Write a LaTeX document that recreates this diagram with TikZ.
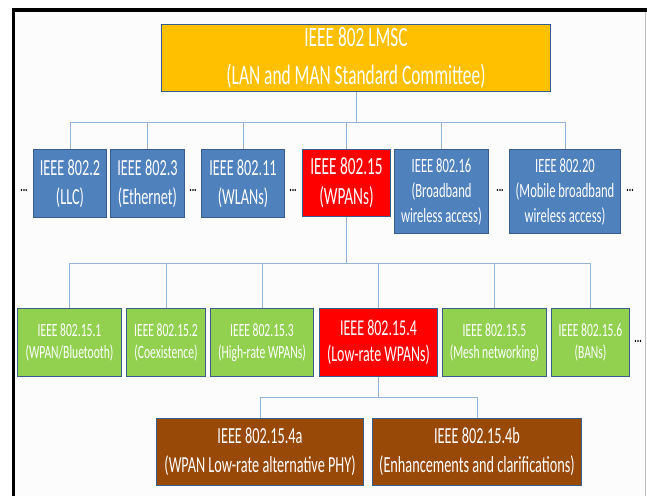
\documentclass[tikz,border=0pt]{standalone}
\usepackage{fontspec}
\newfontfamily\calfont[FakeStretch=0.62]{Carlito}
\definecolor{bordc}{RGB}{56,93,138}
\definecolor{linec}{RGB}{149,179,215}
\definecolor{orangec}{RGB}{255,192,0}
\definecolor{bluec}{RGB}{79,129,189}
\definecolor{redc}{RGB}{255,0,0}
\definecolor{greenc}{RGB}{146,208,80}
\definecolor{brownc}{RGB}{152,72,7}
\definecolor{bgc}{RGB}{252,252,252}
\tikzset{
  box/.style={draw=bordc, line width=1.5pt, rectangle, inner sep=0pt, align=center, text=white},
  conn/.style={draw=linec, line width=1pt},
  dots/.style={inner sep=0pt, font=\calfont\bfseries\fontsize{15}{15}\selectfont, text=black},
  ftop/.style={font=\calfont\fontsize{28}{38}\selectfont},
  fbig/.style={font=\calfont\fontsize{23}{29}\selectfont},
  fmid/.style={font=\calfont\fontsize{20.3}{25}\selectfont},
  fsmall/.style={font=\calfont\fontsize{18.7}{22}\selectfont}
}
\begin{document}
\begin{tikzpicture}[x=1pt,y=-1pt]
\useasboundingbox (0,0) rectangle (647,496);
\fill[white] (0,0) rectangle (647,496);
\fill[bgc] (15,12) rectangle (645,496);
\fill[black] (12,8) rectangle (647,12);
\fill[black] (12,8) rectangle (15,496);
\fill[black!25] (644.5,12) rectangle (646,496);

% bus coordinates
\coordinate (bus1) at (0,122);
\coordinate (bus2) at (0,263);
\coordinate (bus3) at (0,397);

% top
\node[box, ftop, fill=orangec, minimum width=389pt, minimum height=67pt] (top) at (356,58)
  {IEEE 802 LMSC\\(LAN and MAN Standard Committee)};

% row 1
\node[box, fbig, fill=bluec, minimum width=73pt, minimum height=68pt] (b2) at (70,183.5) {IEEE 802.2\\(LLC)};
\node[box, fbig, fill=bluec, minimum width=74pt, minimum height=68pt] (b3) at (147.5,183.5) {IEEE 802.3\\(Ethernet)};
\node[box, fbig, fill=bluec, minimum width=83pt, minimum height=68pt] (b11) at (243,183.5) {IEEE 802.11\\(WLANs)};
\node[box, font=\calfont\fontsize{24.7}{30}\selectfont, fill=redc, minimum width=88pt, minimum height=67pt] (b15) at (346.5,183) {IEEE 802.15\\(WPANs)};
\node[box, fmid, fill=bluec, minimum width=94pt, minimum height=84pt] (b16) at (441.5,191.5) {IEEE 802.16\\(Broadband\\wireless access)};
\node[box, fmid, fill=bluec, minimum width=111pt, minimum height=84pt] (b20) at (565,191.5) {IEEE 802.20\\(Mobile broadband\\wireless access)};

\node[dots] (d1) at (24,190) {...};
\node[dots] (d2) at (193,190) {...};
\node[dots] (d3) at (293,190) {...};
\node[dots] (d4) at (500,190) {...};
\node[dots] (d5) at (630,190) {...};

% row 2
\node[box, fsmall, fill=greenc, minimum width=104pt, minimum height=68pt] (g1) at (69.5,342.5) {IEEE 802.15.1\\(WPAN/Bluetooth)};
\node[box, fsmall, fill=greenc, minimum width=79pt, minimum height=68pt] (g2) at (166,342.5) {IEEE 802.15.2\\(Coexistence)};
\node[box, fsmall, fill=greenc, minimum width=103pt, minimum height=68pt] (g3) at (262,342.5) {IEEE 802.15.3\\(High-rate WPANs)};
\node[box, font=\calfont\fontsize{22.6}{26}\selectfont, fill=redc, minimum width=118pt, minimum height=68pt] (g4) at (378.5,342.5) {IEEE 802.15.4\\(Low-rate WPANs)};
\node[box, fsmall, fill=greenc, minimum width=104pt, minimum height=68pt] (g5) at (494.5,342.5) {IEEE 802.15.5\\(Mesh networking)};
\node[box, fsmall, fill=greenc, minimum width=78pt, minimum height=68pt] (g6) at (590.5,342.5) {IEEE 802.15.6\\(BANs)};
\node[dots] (d6) at (638,341) {...};

% row 3
\node[box, fbig, fill=brownc, minimum width=207pt, minimum height=67pt] (a4) at (260,452) {IEEE 802.15.4a\\(WPAN Low-rate alternative PHY)};
\node[box, fbig, fill=brownc, minimum width=209pt, minimum height=67pt] (b4) at (477,452) {IEEE 802.15.4b\\(Enhancements and clarifications)};

% connectors
\foreach \c in {b2,b3,b11,b15,b16,b20}
  \draw[conn] (top.south) -- (top.south |- bus1) -| (\c.north);
\foreach \c in {g1,g2,g3,g4,g5,g6}
  \draw[conn] (b15.south) -- (b15.south |- bus2) -| (\c.north);
\foreach \c in {a4,b4}
  \draw[conn] (g4.south) -- (g4.south |- bus3) -| (\c.north);
\end{tikzpicture}
\end{document}
